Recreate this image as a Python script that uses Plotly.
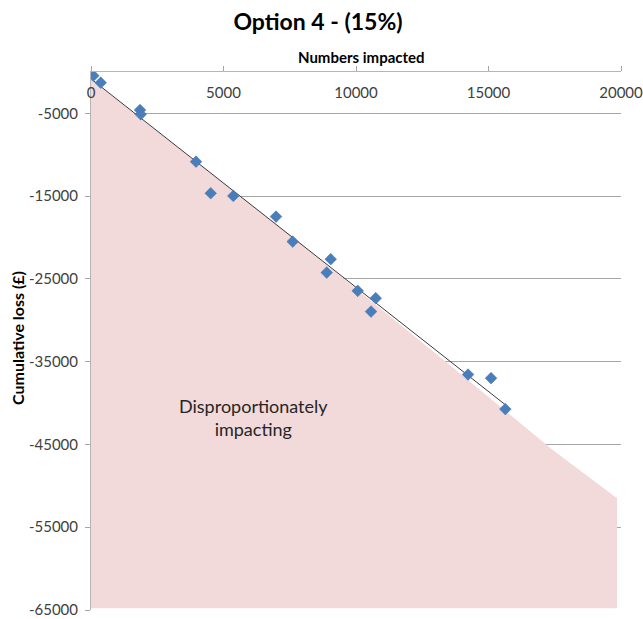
import numpy as np
import plotly.graph_objects as go

# Numbers impacted vs cumulative loss for each group
numbers_impacted = [87, 366, 1849, 1876, 3963, 4517, 5370, 6982, 7612,
                    9046, 8895, 10065, 10745, 10567, 14228, 15096, 15636]
cumulative_loss = [-447, -1292, -4589, -5108, -10831, -14647, -14973, -17473, -20491,
                   -22617, -24235, -26444, -27326, -28944, -36551, -36986, -40730]

# Shaded "disproportionately impacting" region (upper boundary, then down to the floor)
region_x = [0, 7900, 13400, 17400, 19850]
region_y = [-900, -20700, -35050, -45600, -51500]
region_floor = -64800

y_ticks = [-65000, -55000, -45000, -35000, -25000, -15000, -5000]
y_tick_labels = ["-65000", "-55000", "-45000", "-35000", "-25000", "-15000", "-5000"]
x_ticks = [0, 5000, 10000, 15000, 20000]
x_tick_labels = ["0", "5000", "10000", "15000", "20000"]

FONT = "Lato"
TEXT = "#404040"

# Linear trendline over the observed range
slope, intercept = np.polyfit(numbers_impacted, cumulative_loss, 1)
trend_x = [min(numbers_impacted), max(numbers_impacted)]
trend_y = [slope * v + intercept for v in trend_x]

fig = go.Figure()

fig.add_trace(go.Scatter(
    x=region_x + [region_x[-1], region_x[0]],
    y=region_y + [region_floor, region_floor],
    fill="toself", fillcolor="#F2D9DA", mode="none",
    hoverinfo="skip", showlegend=False,
))

fig.add_trace(go.Scatter(
    x=trend_x, y=trend_y, mode="lines",
    line=dict(color="#3A3A3A", width=1),
    hoverinfo="skip", showlegend=False,
))

fig.add_trace(go.Scatter(
    x=numbers_impacted, y=cumulative_loss, mode="markers",
    marker=dict(symbol="diamond", size=9, color="#4A7EBB",
                line=dict(color="#3F72AE", width=0.5)),
    showlegend=False,
))

fig.add_annotation(
    x=6114, y=-41780, xref="x", yref="y",
    text="Disproportionately<br>impacting", showarrow=False,
    font=dict(family=FONT, size=18, color="#262626"),
    align="center",
)

# Axis titles
fig.add_annotation(
    x=0.5 + 5 / 530, y=1 + 15 / 538, xref="paper", yref="paper",
    text="<b>Numbers impacted</b>", showarrow=False,
    xanchor="center", yanchor="middle",
    font=dict(family=FONT, size=15, color="black"),
)
fig.add_annotation(
    x=-74 / 530, y=0.5 + 3 / 538, xref="paper", yref="paper",
    text="<b>Cumulative loss (£)</b>", showarrow=False, textangle=-90,
    xanchor="center", yanchor="middle",
    font=dict(family=FONT, size=16, color="black"),
)

fig.update_layout(
    width=643, height=619,
    margin=dict(l=91, r=22, t=72, b=9),
    paper_bgcolor="white", plot_bgcolor="white",
    font=dict(family=FONT, color=TEXT),
    title=dict(
        text="<b>Option 4 - (15%)</b>",
        x=0.4946, xref="container", xanchor="center",
        y=1 - 22 / 619, yref="container", yanchor="middle",
        font=dict(family=FONT, size=23, color="black"),
    ),
    xaxis=dict(
        side="top", range=[0, 20000],
        tickvals=x_ticks, ticktext=x_tick_labels,
        ticks="outside", ticklen=5, tickcolor="#A6A6A6",
        ticklabelposition="inside", ticklabeloverflow="allow",
        ticklabelstandoff=15,
        tickfont=dict(family=FONT, size=15, color=TEXT),
        showline=True, linecolor="#B5B5B5", linewidth=1,
        showgrid=False, zeroline=False, automargin=False,
    ),
    yaxis=dict(
        range=[-65000, 0], tickvals=y_ticks, ticktext=y_tick_labels,
        ticks="outside", ticklen=5, tickcolor="#A6A6A6",
        ticklabelstandoff=4,
        tickfont=dict(family=FONT, size=15, color=TEXT),
        showline=True, linecolor="#B5B5B5", linewidth=1,
        showgrid=True, gridcolor="#A6A6A6", gridwidth=1,
        zeroline=False, automargin=False,
    ),
)

fig.write_html("out.html")
